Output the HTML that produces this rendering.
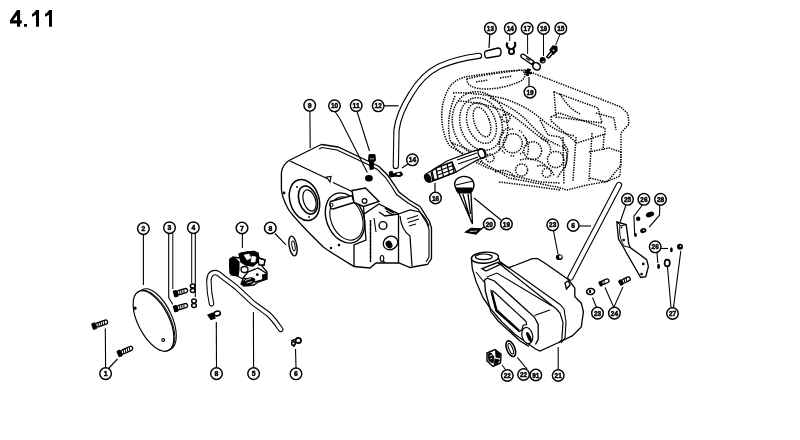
<!DOCTYPE html>
<html><head><meta charset="utf-8"><style>
html,body{margin:0;padding:0;background:#fff;width:800px;height:440px;overflow:hidden}
.t{position:absolute;left:10px;top:5px;font-family:"Liberation Sans",sans-serif;font-weight:bold;font-size:48px;line-height:48px;color:#000;letter-spacing:0px;transform:scale(0.5);transform-origin:0 0}
svg{position:absolute;left:0;top:0;will-change:transform}
svg text{font-family:"Liberation Sans",sans-serif}
</style></head><body>
<svg width="800" height="440" viewBox="0 0 800 440">
<path d="M451,85 C456,80 462,77 471,76 L506,71 L525,70 L621,107 L628,114 L629,124 L621,133 L621,165 L608,181 L583,186 L567,190 L557,187 L509,178 L487,165 L470,157 C460,152 452,148 449,145 C443,135 441,122 442,110 C443,100 446,92 451,85 Z" fill="none" stroke="#000" stroke-width="1.49" stroke-dasharray="1.4 1.1" />
<path d="M455,96 C449,110 447,125 450,140 C456,152 470,160 488,168 L510,175 L540,182 L560,183" fill="none" stroke="#000" stroke-width="1.49" stroke-dasharray="1.4 1.1" />
<path d="M467,79 C480,75 500,73 521,70 C526,72 526,78 521,81 C510,86 498,89 485,89 C474,89 466,85 467,79 Z" fill="none" stroke="#000" stroke-width="1.49" stroke-dasharray="1.4 1.1" />
<path d="M476,82 L488,80 M500,78 L512,76" fill="none" stroke="#000" stroke-width="1.49" stroke-dasharray="1.4 1.1" />
<path d="M453,93 C470,92 485,95 502,98 C515,102 528,108 540,118 C552,128 560,133 575,136" fill="none" stroke="#000" stroke-width="1.49" stroke-dasharray="1.4 1.1" />
<path d="M458,101 C475,102 495,106 510,114 C525,124 535,135 548,142" fill="none" stroke="#000" stroke-width="1.49" stroke-dasharray="1.4 1.1" />
<path d="M490,98 C505,104 520,112 530,124 C538,132 545,140 560,146" fill="none" stroke="#000" stroke-width="1.49" stroke-dasharray="1.4 1.1" />
<ellipse cx="480" cy="124" rx="27" ry="33" transform="rotate(-20 480 124)" fill="none" stroke="#000" stroke-width="1.4850000000000003" stroke-dasharray="1.4 1.1"/>
<ellipse cx="481" cy="124" rx="20.5" ry="27" transform="rotate(-20 481 124)" fill="none" stroke="#000" stroke-width="1.4850000000000003" stroke-dasharray="1.4 1.1"/>
<ellipse cx="481.5" cy="123" rx="14" ry="21" transform="rotate(-20 481.5 123)" fill="none" stroke="#000" stroke-width="1.4850000000000003" stroke-dasharray="1.4 1.1"/>
<ellipse cx="482" cy="122" rx="7.5" ry="15.5" transform="rotate(-20 482 122)" fill="none" stroke="#000" stroke-width="1.4850000000000003" stroke-dasharray="1.4 1.1"/>
<circle cx="512.7" cy="143.3" r="9.6" fill="none" stroke="#000" stroke-width="1.4850000000000003" stroke-dasharray="1.4 1.1"/>
<circle cx="532.7" cy="150.7" r="8.9" fill="none" stroke="#000" stroke-width="1.4850000000000003" stroke-dasharray="1.4 1.1"/>
<circle cx="555.6" cy="159.5" r="8.1" fill="none" stroke="#000" stroke-width="1.4850000000000003" stroke-dasharray="1.4 1.1"/>
<circle cx="521.6" cy="170" r="6" fill="none" stroke="#000" stroke-width="1.4850000000000003" stroke-dasharray="1.4 1.1"/>
<circle cx="546.7" cy="172.8" r="4.5" fill="none" stroke="#000" stroke-width="1.4850000000000003" stroke-dasharray="1.4 1.1"/>
<circle cx="506" cy="118" r="4" fill="none" stroke="#000" stroke-width="1.4850000000000003" stroke-dasharray="1.4 1.1"/>
<circle cx="490" cy="158" r="4" fill="none" stroke="#000" stroke-width="1.4850000000000003" stroke-dasharray="1.4 1.1"/>
<path d="M554,92 L598,108 L602,123 L556,117 Z" fill="none" stroke="#000" stroke-width="1.49" stroke-dasharray="1.4 1.1" />
<path d="M560,94 C566,104 572,110 580,114" fill="none" stroke="#000" stroke-width="1.49" stroke-dasharray="1.4 1.1" />
<path d="M551,117 L559,113 L605,128 L605,134 L577,143 L551,121 Z" fill="none" stroke="#000" stroke-width="1.49" stroke-dasharray="1.4 1.1" />
<path d="M563,137 L564,184 M576,137 L573,181 M592,133 L589,181 M604,134 L603,150" fill="none" stroke="#000" stroke-width="1.49" stroke-dasharray="1.4 1.1" />
<path d="M589,152 L609,148 L621,152 L620,176 L606,182 L590,178" fill="none" stroke="#000" stroke-width="1.49" stroke-dasharray="1.4 1.1" />
<path d="M540,120 L548,135 L560,137 L568,150 L566,165 L557,178" fill="none" stroke="#000" stroke-width="1.49" stroke-dasharray="1.4 1.1" />
<path d="M596,113 L614,118 L616,130" fill="none" stroke="#000" stroke-width="1.49" stroke-dasharray="1.4 1.1" />
<path d="M500,150 C498,140 500,130 510,127 M523,135 C528,140 530,146 527,156 M520,160 C530,157 540,160 546,166" fill="none" stroke="#000" stroke-width="1.49" stroke-dasharray="1.4 1.1" />
<path d="M495,172 C505,168 512,172 515,178 M537,166 C545,164 552,168 554,176" fill="none" stroke="#000" stroke-width="1.49" stroke-dasharray="1.4 1.1" />
<path d="M541,138 C548,142 552,146 550,152 M562,146 C568,150 568,158 565,168" fill="none" stroke="#000" stroke-width="1.49" stroke-dasharray="1.4 1.1" />
<path d="M499,182 L532,186 L560,190" fill="none" stroke="#000" stroke-width="1.49" stroke-dasharray="1.4 1.1" />
<path d="M452,143 C462,147 470,150 478,155 L483,163" fill="none" stroke="#000" stroke-width="1.49" stroke-dasharray="1.4 1.1" />
<circle cx="513" cy="142.5" r="13.5" fill="none" stroke="#000" stroke-width="1.3" stroke-dasharray="1.4 1.1 1.4 6" />
<path d="M479,55.8 C466,57.5 450,61.5 439,66.5 C428,72 418,82 411,94 C404,105 398,118 396.5,130 L395.8,166" fill="none" stroke="#000" stroke-width="6.3" stroke-linecap="round"/>
<path d="M479,55.8 C466,57.5 450,61.5 439,66.5 C428,72 418,82 411,94 C404,105 398,118 396.5,130 L395.8,166" fill="none" stroke="#fff" stroke-width="4.1"  stroke-linecap="round"/>
<circle cx="378.2" cy="105.8" r="5.8" fill="#fff" stroke="#000" stroke-width="1.45"/>
<text x="378.2" y="108.39999999999999" font-size="7.2" font-weight="bold" text-anchor="middle" stroke="#000" stroke-width="0.5" textLength="7.2" lengthAdjust="spacingAndGlyphs">12</text>
<path d="M384,105.8 L398.5,105.8" fill="none" stroke="#000" stroke-width="1.21" />
<circle cx="490.4" cy="28.4" r="5.8" fill="#fff" stroke="#000" stroke-width="1.45"/>
<text x="490.4" y="31.0" font-size="7.2" font-weight="bold" text-anchor="middle" stroke="#000" stroke-width="0.5" textLength="7.2" lengthAdjust="spacingAndGlyphs">13</text>
<path d="M489.8,34 L489,48" fill="none" stroke="#000" stroke-width="1.21" />
<circle cx="510.3" cy="28.4" r="5.8" fill="#fff" stroke="#000" stroke-width="1.45"/>
<text x="510.3" y="31.0" font-size="7.2" font-weight="bold" text-anchor="middle" stroke="#000" stroke-width="0.5" textLength="7.2" lengthAdjust="spacingAndGlyphs">14</text>
<path d="M509.7,34 L509.7,41" fill="none" stroke="#000" stroke-width="0.99" />
<circle cx="527.2" cy="28.4" r="5.8" fill="#fff" stroke="#000" stroke-width="1.45"/>
<text x="527.2" y="31.0" font-size="7.2" font-weight="bold" text-anchor="middle" stroke="#000" stroke-width="0.5" textLength="7.2" lengthAdjust="spacingAndGlyphs">17</text>
<path d="M527.6,34 L527.6,54" fill="none" stroke="#000" stroke-width="0.99" />
<circle cx="543.6" cy="28.4" r="5.8" fill="#fff" stroke="#000" stroke-width="1.45"/>
<text x="543.6" y="31.0" font-size="7.2" font-weight="bold" text-anchor="middle" stroke="#000" stroke-width="0.5" textLength="7.2" lengthAdjust="spacingAndGlyphs">18</text>
<path d="M543.5,34 L543.5,56" fill="none" stroke="#000" stroke-width="0.99" />
<circle cx="560.8" cy="28.4" r="5.8" fill="#fff" stroke="#000" stroke-width="1.45"/>
<text x="560.8" y="31.0" font-size="7.2" font-weight="bold" text-anchor="middle" stroke="#000" stroke-width="0.5" textLength="7.2" lengthAdjust="spacingAndGlyphs">15</text>
<path d="M560,34.2 L555.7,45" fill="none" stroke="#000" stroke-width="0.99" />
<circle cx="530" cy="92.2" r="5.8" fill="#fff" stroke="#000" stroke-width="1.45"/>
<text x="530" y="94.8" font-size="7.2" font-weight="bold" text-anchor="middle" stroke="#000" stroke-width="0.5" textLength="7.2" lengthAdjust="spacingAndGlyphs">19</text>
<path d="M529,77 L529,86" fill="none" stroke="#000" stroke-width="1.21" />
<path d="M486,51 L498,48 C502,48 502,55 499,56 L487,58 C484,58 484,51 486,51 Z" fill="#fff" stroke="#000" stroke-width="1.32" />
<path d="M507.5,42.5 C506,45 507,48 510,49 M514.5,42 C516,44.5 515,47.5 512.5,49" fill="none" stroke="#000" stroke-width="2.2" />
<circle cx="511.5" cy="51.5" r="2.6" fill="none" stroke="#000" stroke-width="1.9"/>
<path d="M521.5,54.5 C520,55.5 521,57.5 523,58.5 L532,64.5 L534,61.5 L524,54.5 C523.5,54 522,54 521.5,54.5 Z" fill="#fff" stroke="#000" stroke-width="1.43" />
<ellipse cx="536.5" cy="66.3" rx="4" ry="3.4" transform="rotate(35 536.5 66.3)" fill="#fff" stroke="#000" stroke-width="1.6"/>
<path d="M526,58 L530,60.5" fill="none" stroke="#000" stroke-width="1.32" />
<ellipse cx="542.7" cy="60.3" rx="3" ry="3.2" fill="#000"/>
<path d="M542,62 L544.5,61.5" fill="none" stroke="#fff" stroke-width="0.8" />
<path d="M546.5,57 L551,51.5 M549,58 L553.5,52.5" fill="none" stroke="#000" stroke-width="1.43" />
<path d="M546.5,57 L549,58" fill="none" stroke="#000" stroke-width="1.43" />
<path d="M550,50 L553,46 L556.7,46.5 L557,50.5 L553.5,54 Z" fill="#000" stroke="#000" stroke-width="1.32" />
<circle cx="553.5" cy="50.3" r="0.9" fill="#fff"/>
<path d="M525,70 L531,74 M526,75.5 L530.5,69 M524.5,72.5 L532,73 M528,68.5 L528,76" fill="none" stroke="#000" stroke-width="1.87" />
<path d="M289,160.5 L318,146 L322,144.5 L338,147 L369,161.5 L379,166.5 L387.5,175 L394.5,185 L399,192 L410,200.5 L420,206.5 L429.5,221.5 L431.5,228 L431.5,258.5 L427.5,264.5 L421,265.5 L410,267.5 L399,263 L376,263 L370,268 L354,266.5 C340,258 330,252 322.7,246.4 L306.8,230.5 C297,220 290,213 287.7,208 C283,199 281.5,194 281.4,189 L281.4,173 C282,167 285,163 289,160.5 Z" fill="#fff" stroke="#000" stroke-width="1.32" />
<path d="M319,149 L322,147.5 L337,150 L368,164.5 L377.5,169.5 L385.5,177.5 L392,187 L396.5,194.5 L408,203 L418,209 L427,223.5 L429,229 L429,257 L426,262" fill="none" stroke="#000" stroke-width="1.1" />
<path d="M290,161 L327,178.5" fill="none" stroke="#000" stroke-width="1.32" />
<path d="M333,182.5 L353,192" fill="none" stroke="#000" stroke-width="1.32" />
<path d="M326.5,177 L331,176.5 L330,182 Z" fill="#fff" stroke="#000" stroke-width="1.21" />
<ellipse cx="304.5" cy="200" rx="14.5" ry="21" transform="rotate(-18 304.5 200)" fill="none" stroke="#000" stroke-width="1.5"/>
<ellipse cx="308" cy="200" rx="9" ry="14.5" transform="rotate(-18 308 200)" fill="none" stroke="#000" stroke-width="1.6"/>
<ellipse cx="309.5" cy="200.5" rx="6" ry="11" transform="rotate(-18 309.5 200.5)" fill="none" stroke="#000" stroke-width="1.2"/>
<circle cx="309" cy="217" r="0.9" fill="#000"/><circle cx="297" cy="187" r="0.9" fill="#000"/>
<ellipse cx="345" cy="218" rx="18.5" ry="26" transform="rotate(-22 345 218)" fill="none" stroke="#000" stroke-width="1.4"/>
<ellipse cx="346.5" cy="218.5" rx="15.5" ry="22.5" transform="rotate(-22 346.5 218.5)" fill="none" stroke="#000" stroke-width="1.1"/>
<path d="M330.5,201.5 L352,195.5 L354,202.5 L333,209 C330,209 329,203 330.5,201.5 Z" fill="#fff" stroke="#000" stroke-width="1.32" />
<circle cx="331.5" cy="205" r="1.5" fill="none" stroke="#000" stroke-width="1"/>
<path d="M352,190.5 L365.5,188 L379,201.5 L363.5,206.5 L354,202.5 Z" fill="#fff" stroke="#000" stroke-width="1.43" />
<circle cx="364.5" cy="201" r="2.4" fill="none" stroke="#000" stroke-width="1.2"/>
<path d="M363.5,206.5 L364,214 L379,204 L398.5,214 L398.5,263 M364,214 L366,240 L354,245 L354,266.5 M379,212 L385,216 L398.5,214 M370.5,220 L370.5,262" fill="none" stroke="#000" stroke-width="1.32" />
<path d="M370.5,220 L370.5,262" fill="none" stroke="#000" stroke-width="1.32" stroke-dasharray="2 2" />
<path d="M385,208 L394,213 M386,211 L393,215" fill="none" stroke="#000" stroke-width="1.43" />
<circle cx="383" cy="225.5" r="3.9" fill="#fff" stroke="#000" stroke-width="1.4"/>
<ellipse cx="390.5" cy="243" rx="7.5" ry="6.5" transform="rotate(-30 390.5 243)" fill="#fff" stroke="#000" stroke-width="1.3"/>
<ellipse cx="389" cy="244.5" rx="3.2" ry="4" transform="rotate(-30 389 244.5)" fill="#000"/>
<ellipse cx="382" cy="258.5" rx="1.8" ry="3" fill="none" stroke="#000" stroke-width="1.1"/>
<path d="M398.5,214 L410,210 L420,212 L425.5,218.5 L429,226 M400,216 C401,226 404,232 410,236 L412,266" fill="none" stroke="#000" stroke-width="1.21" />
<path d="M407,219 L418,215.5 M408,222.5 L419,219 M409,226 L416,224 M374,218 L376,232" fill="none" stroke="#000" stroke-width="1.1" />
<circle cx="284" cy="193" r="1.4" fill="#000"/><circle cx="331" cy="248" r="1.2" fill="#000"/><circle cx="339" cy="245" r="1.3" fill="#000"/><circle cx="384" cy="262" r="1" fill="#000"/>
<path d="M369,154.5 L375,154.5 L375.5,160.5 L373.5,162 L373.5,169 L370,169.5 L369.5,162 L368.5,160.5 Z" fill="#000" stroke="#000" stroke-width="0.88" />
<circle cx="371" cy="158.8" r="0.7" fill="#fff"/><circle cx="373" cy="158.8" r="0.7" fill="#fff"/>
<ellipse cx="368.9" cy="178.2" rx="3.9" ry="3.3" fill="#000"/>
<circle cx="309.7" cy="105.3" r="5.8" fill="#fff" stroke="#000" stroke-width="1.45"/>
<text x="309.7" y="107.89999999999999" font-size="7.2" font-weight="bold" text-anchor="middle" stroke="#000" stroke-width="0.5" textLength="3.8" lengthAdjust="spacingAndGlyphs">9</text>
<path d="M309.9,111 L310.2,148" fill="none" stroke="#000" stroke-width="1.1" />
<circle cx="334.5" cy="105.8" r="5.8" fill="#fff" stroke="#000" stroke-width="1.45"/>
<text x="334.5" y="108.39999999999999" font-size="7.2" font-weight="bold" text-anchor="middle" stroke="#000" stroke-width="0.5" textLength="7.2" lengthAdjust="spacingAndGlyphs">10</text>
<path d="M335,111.5 L340,119 L367.3,172.5" fill="none" stroke="#000" stroke-width="1.1" />
<circle cx="356.2" cy="105.6" r="5.8" fill="#fff" stroke="#000" stroke-width="1.45"/>
<text x="356.2" y="108.19999999999999" font-size="7.2" font-weight="bold" text-anchor="middle" stroke="#000" stroke-width="0.5" textLength="7.2" lengthAdjust="spacingAndGlyphs">11</text>
<path d="M357,111.5 L369.5,151" fill="none" stroke="#000" stroke-width="1.1" />
<path d="M389.5,172 L392,171.5 L393,174 L396,173 L401,172 L402.5,174.5 L400,176.5 L395,176 L391,177 L389.5,176 Z" fill="#000" stroke="#000" stroke-width="1.1" />
<ellipse cx="398.5" cy="174" rx="1.8" ry="0.9" fill="#fff"/>
<circle cx="412.4" cy="159.8" r="5.8" fill="#fff" stroke="#000" stroke-width="1.45"/>
<text x="412.4" y="162.4" font-size="7.2" font-weight="bold" text-anchor="middle" stroke="#000" stroke-width="0.5" textLength="7.2" lengthAdjust="spacingAndGlyphs">14</text>
<path d="M408,164 L402,168" fill="none" stroke="#000" stroke-width="1.21" />
<path d="M426,174 L447,161 L474,151 L481,149 C486,149 487,156 484.5,157 L478,159.5 L456,172 L430,182 C425,183 423,176 426,174 Z" fill="#fff" stroke="#000" stroke-width="1.32" />
<ellipse cx="481.5" cy="153.5" rx="3.2" ry="5" transform="rotate(-20 481.5 153.5)" fill="none" stroke="#000" stroke-width="1.4"/>
<path d="M456,172 L452,162 L436,168 L438,179 Z" fill="#fff" stroke="#000" stroke-width="1.43" />
<path d="M441,166 L443.5,177 M447,164 L449.5,175 M452,162.5 L454,173 M437,171.5 L454,165 M438,175 L455,168.5" fill="none" stroke="#000" stroke-width="1.21" />
<path d="M436,168 L432,171 L434,180 L438,179" fill="none" stroke="#000" stroke-width="1.32" />
<path d="M457,160 L477,153 M458,164 L478,157" fill="none" stroke="#000" stroke-width="1.1" />
<ellipse cx="428" cy="178" rx="3" ry="4.3" transform="rotate(-25 428 178)" fill="#000"/>
<path d="M431,172 L433,181" fill="none" stroke="#000" stroke-width="1.32" />
<circle cx="435.5" cy="198" r="5.8" fill="#fff" stroke="#000" stroke-width="1.45"/>
<text x="435.5" y="200.6" font-size="7.2" font-weight="bold" text-anchor="middle" stroke="#000" stroke-width="0.5" textLength="7.2" lengthAdjust="spacingAndGlyphs">16</text>
<path d="M435,183 L435,192" fill="none" stroke="#000" stroke-width="1.21" />
<path d="M455,186 C453,178 462,176 465,176.5 C472,177 475,182 473.5,188 L472,191 L457,191 Z" fill="#fff" stroke="#000" stroke-width="1.43" />
<path d="M456,185 L473,181" fill="none" stroke="#000" stroke-width="1.21" />
<path d="M456,188 L472,188 L471,193 L458,193 Z" fill="#000" stroke="#000" stroke-width="1.1" />
<path d="M459,193 L472.5,224 L471,193 M463,194 L470,218 M468,194 L470.5,214" fill="none" stroke="#000" stroke-width="1.32" />
<circle cx="506.4" cy="224" r="5.8" fill="#fff" stroke="#000" stroke-width="1.45"/>
<text x="506.4" y="226.6" font-size="7.2" font-weight="bold" text-anchor="middle" stroke="#000" stroke-width="0.5" textLength="7.2" lengthAdjust="spacingAndGlyphs">19</text>
<path d="M474,198 L501,220" fill="none" stroke="#000" stroke-width="1.1" />
<circle cx="489.3" cy="224" r="5.8" fill="#fff" stroke="#000" stroke-width="1.45"/>
<text x="489.3" y="226.6" font-size="7.2" font-weight="bold" text-anchor="middle" stroke="#000" stroke-width="0.5" textLength="7.2" lengthAdjust="spacingAndGlyphs">20</text>
<path d="M484,227 L481,229" fill="none" stroke="#000" stroke-width="1.1" />
<path d="M466,232 L471,228.5 L481,229 L476,234 Z" fill="#000" stroke="#000" stroke-width="1.54" />
<path d="M470,231.5 L477,231" fill="none" stroke="#fff" stroke-width="0.8" />
<circle cx="143.4" cy="228.6" r="5.8" fill="#fff" stroke="#000" stroke-width="1.45"/>
<text x="143.4" y="231.2" font-size="7.2" font-weight="bold" text-anchor="middle" stroke="#000" stroke-width="0.5" textLength="3.8" lengthAdjust="spacingAndGlyphs">2</text>
<path d="M143.4,234 L143.4,285" fill="none" stroke="#000" stroke-width="1.1" />
<circle cx="169.5" cy="227.7" r="5.8" fill="#fff" stroke="#000" stroke-width="1.45"/>
<text x="169.5" y="230.29999999999998" font-size="7.2" font-weight="bold" text-anchor="middle" stroke="#000" stroke-width="0.5" textLength="3.8" lengthAdjust="spacingAndGlyphs">3</text>
<path d="M168.7,233 L168.7,297.5 L172.8,304.5" fill="none" stroke="#000" stroke-width="1.1" />
<path d="M172.8,233 L172.8,289" fill="none" stroke="#000" stroke-width="0.99" />
<circle cx="193.4" cy="227.7" r="5.8" fill="#fff" stroke="#000" stroke-width="1.45"/>
<text x="193.4" y="230.29999999999998" font-size="7.2" font-weight="bold" text-anchor="middle" stroke="#000" stroke-width="0.5" textLength="3.8" lengthAdjust="spacingAndGlyphs">4</text>
<path d="M191.7,233 L191.7,283" fill="none" stroke="#000" stroke-width="0.99" />
<path d="M195.3,233 L195.3,297" fill="none" stroke="#000" stroke-width="1.1" />
<ellipse cx="156.5" cy="319.5" rx="15.5" ry="33" transform="rotate(-25 156.5 319.5)" fill="#fff" stroke="#000" stroke-width="1.1"/>
<ellipse cx="154.5" cy="320.5" rx="15.5" ry="33" transform="rotate(-27 154.5 320.5)" fill="none" stroke="#000" stroke-width="0.9"/>
<ellipse cx="153.5" cy="321" rx="15.5" ry="33" transform="rotate(-27 153.5 321)" fill="#fff" stroke="#000" stroke-width="1.2"/>
<circle cx="135" cy="308.2" r="1.6" fill="#000"/><circle cx="163.2" cy="340" r="1.4" fill="none" stroke="#000" stroke-width="1.1"/>
<g transform="translate(174.5,294) rotate(-17.1)"><rect x="-1" y="-3.5" width="4.5" height="7.0" rx="1.2" fill="#000"/><rect x="3.0" y="-2.1" width="10.601470508735444" height="4.2" rx="2.1" fill="#fff" stroke="#000" stroke-width="1.3"/><line x1="6.0" y1="-1.8" x2="5.0" y2="1.8" stroke="#000" stroke-width="1"/><line x1="8.2" y1="-1.8" x2="7.2" y2="1.8" stroke="#000" stroke-width="1"/><line x1="10.4" y1="-1.8" x2="9.4" y2="1.8" stroke="#000" stroke-width="1"/></g>
<g transform="translate(174.5,309) rotate(-17.1)"><rect x="-1" y="-3.5" width="4.5" height="7.0" rx="1.2" fill="#000"/><rect x="3.0" y="-2.1" width="10.601470508735444" height="4.2" rx="2.1" fill="#fff" stroke="#000" stroke-width="1.3"/><line x1="6.0" y1="-1.8" x2="5.0" y2="1.8" stroke="#000" stroke-width="1"/><line x1="8.2" y1="-1.8" x2="7.2" y2="1.8" stroke="#000" stroke-width="1"/><line x1="10.4" y1="-1.8" x2="9.4" y2="1.8" stroke="#000" stroke-width="1"/></g>
<ellipse cx="192.7" cy="286" rx="2.3" ry="2" fill="none" stroke="#000" stroke-width="1.5"/><ellipse cx="192.7" cy="290.5" rx="2.3" ry="2" fill="none" stroke="#000" stroke-width="1.5"/>
<ellipse cx="194" cy="301" rx="2.3" ry="2" fill="none" stroke="#000" stroke-width="1.5"/><ellipse cx="194" cy="305.5" rx="2.3" ry="2" fill="none" stroke="#000" stroke-width="1.5"/>
<g transform="translate(93,326.5) rotate(-19.0)"><rect x="-1" y="-3.5" width="4.5" height="7.0" rx="1.2" fill="#000"/><rect x="3.0" y="-2.1" width="12.337861650177967" height="4.2" rx="2.1" fill="#fff" stroke="#000" stroke-width="1.3"/><line x1="6.0" y1="-1.8" x2="5.0" y2="1.8" stroke="#000" stroke-width="1"/><line x1="8.2" y1="-1.8" x2="7.2" y2="1.8" stroke="#000" stroke-width="1"/><line x1="10.4" y1="-1.8" x2="9.4" y2="1.8" stroke="#000" stroke-width="1"/><line x1="12.600000000000001" y1="-1.8" x2="11.600000000000001" y2="1.8" stroke="#000" stroke-width="1"/></g>
<g transform="translate(118.5,354) rotate(-24.9)"><rect x="-1" y="-3.5" width="4.5" height="7.0" rx="1.2" fill="#000"/><rect x="3.0" y="-2.1" width="12.435349040433131" height="4.2" rx="2.1" fill="#fff" stroke="#000" stroke-width="1.3"/><line x1="6.0" y1="-1.8" x2="5.0" y2="1.8" stroke="#000" stroke-width="1"/><line x1="8.2" y1="-1.8" x2="7.2" y2="1.8" stroke="#000" stroke-width="1"/><line x1="10.4" y1="-1.8" x2="9.4" y2="1.8" stroke="#000" stroke-width="1"/><line x1="12.600000000000001" y1="-1.8" x2="11.600000000000001" y2="1.8" stroke="#000" stroke-width="1"/></g>
<circle cx="105.6" cy="373.6" r="5.8" fill="#fff" stroke="#000" stroke-width="1.45"/>
<text x="105.6" y="376.20000000000005" font-size="7.2" font-weight="bold" text-anchor="middle" stroke="#000" stroke-width="0.5" textLength="3.8" lengthAdjust="spacingAndGlyphs">1</text>
<path d="M105.3,328.5 L105.6,367.5" fill="none" stroke="#000" stroke-width="1.1" />
<path d="M108.5,368.5 L117.5,359" fill="none" stroke="#000" stroke-width="1.1" />
<path d="M230,259 L233,257 L239,258 L241,253 L248,252 L254,251.5 L258,253 L259,258 L265,260 L264,265 L262,266 L267,272 L267,279 L258,282 L254,285 L244,286 L241,284 L243,279 L237,276 L230,273 Z" fill="#fff" stroke="#000" stroke-width="1.32" />
<path d="M230,259 L235,258 L239,262 L239,270 L238,276 L231,275 L229.5,266 Z" fill="#000" stroke="#000" stroke-width="1.1" />
<path d="M239,254 L248,252 L254,251.5 L258,254 L258,262 L253,266 L246,265 L241,262 Z" fill="#000" stroke="#000" stroke-width="1.32" />
<path d="M244,255 L249,254 L251,258 L247,260 Z M252,256 L256,257 L255,262 L251,262 Z" fill="#fff" stroke="#fff" stroke-width="0.6" />
<path d="M258,258 L265,260 L264,265 L259,265 Z" fill="#fff" stroke="#000" stroke-width="1.32" />
<ellipse cx="244.5" cy="269.5" rx="3.5" ry="3" fill="#fff" stroke="#000" stroke-width="1.3"/>
<path d="M243,278 L248,272 L258,268 L266,273 L266,279 L255,282 Z" fill="#fff" stroke="#000" stroke-width="1.32" />
<circle cx="257.3" cy="274.7" r="1.4" fill="#000"/>
<path d="M262.5,275 L266.5,274 L266,279 L263,279.5 Z" fill="#000" stroke="#000" stroke-width="1.1" />
<ellipse cx="248.5" cy="281.5" rx="7" ry="3.8" transform="rotate(-20 248.5 281.5)" fill="#000"/>
<path d="M245,280.5 L251,278.5 M247,283 L252,281.5" fill="none" stroke="#fff" stroke-width="0.9" />
<circle cx="242" cy="228" r="5.8" fill="#fff" stroke="#000" stroke-width="1.45"/>
<text x="242" y="230.6" font-size="7.2" font-weight="bold" text-anchor="middle" stroke="#000" stroke-width="0.5" textLength="3.8" lengthAdjust="spacingAndGlyphs">7</text>
<path d="M242.4,234 L242.4,248" fill="none" stroke="#000" stroke-width="1.1" />
<circle cx="270.3" cy="228" r="5.8" fill="#fff" stroke="#000" stroke-width="1.45"/>
<text x="270.3" y="230.6" font-size="7.2" font-weight="bold" text-anchor="middle" stroke="#000" stroke-width="0.5" textLength="3.8" lengthAdjust="spacingAndGlyphs">8</text>
<path d="M275,233.5 L286,244.8" fill="none" stroke="#000" stroke-width="1.1" />
<ellipse cx="293" cy="246" rx="3.8" ry="10" transform="rotate(-10 293 246)" fill="#fff" stroke="#000" stroke-width="1.4"/>
<ellipse cx="293.5" cy="246" rx="1.5" ry="5" transform="rotate(-10 293 246)" fill="none" stroke="#000" stroke-width="1.0"/>
<path d="M211.5,303.7 C210,297 209,290 208.9,282 C208.9,276 211,272.6 215,272.6 C218,272.6 220,274.5 222,276.5 L236,287 L253,303 L267.5,313.5 C273,318 277,324 280.7,329.4" fill="none" stroke="#000" stroke-width="5.5" stroke-linecap="round"/>
<path d="M211.5,303.7 C210,297 209,290 208.9,282 C208.9,276 211,272.6 215,272.6 C218,272.6 220,274.5 222,276.5 L236,287 L253,303 L267.5,313.5 C273,318 277,324 280.7,329.4" fill="none" stroke="#fff" stroke-width="3.4"  stroke-linecap="round"/>
<circle cx="216.5" cy="373.6" r="5.8" fill="#fff" stroke="#000" stroke-width="1.45"/>
<text x="216.5" y="376.20000000000005" font-size="7.2" font-weight="bold" text-anchor="middle" stroke="#000" stroke-width="0.5" textLength="3.8" lengthAdjust="spacingAndGlyphs">8</text>
<path d="M216.3,322 L216.5,367.5" fill="none" stroke="#000" stroke-width="1.1" />
<path d="M208,315 L213,313 L215,318 L211,319.5 Z" fill="#000" stroke="#000" stroke-width="1.32" />
<ellipse cx="217.2" cy="313.5" rx="3.2" ry="2.3" transform="rotate(-15 217 313.5)" fill="none" stroke="#000" stroke-width="1.6"/>
<circle cx="253.6" cy="373.6" r="5.8" fill="#fff" stroke="#000" stroke-width="1.45"/>
<text x="253.6" y="376.20000000000005" font-size="7.2" font-weight="bold" text-anchor="middle" stroke="#000" stroke-width="0.5" textLength="3.8" lengthAdjust="spacingAndGlyphs">5</text>
<path d="M253.4,312 L253.6,367.5" fill="none" stroke="#000" stroke-width="1.1" />
<circle cx="296" cy="373.8" r="5.8" fill="#fff" stroke="#000" stroke-width="1.45"/>
<text x="296" y="376.40000000000003" font-size="7.2" font-weight="bold" text-anchor="middle" stroke="#000" stroke-width="0.5" textLength="3.8" lengthAdjust="spacingAndGlyphs">6</text>
<path d="M295.5,349 L296,367.5" fill="none" stroke="#000" stroke-width="1.1" />
<circle cx="298.3" cy="340.5" r="2.7" fill="none" stroke="#000" stroke-width="1.8"/>
<circle cx="293.5" cy="343.5" r="1.8" fill="none" stroke="#000" stroke-width="1.5"/>
<path d="M291,341 L295,339.5 M293.5,345 L294,347" fill="none" stroke="#000" stroke-width="1.54" />
<path d="M471.4,258.6 L472.3,268.6 L476,281.4 L483,297.7 L490.5,308.6 L501.4,321.4 L514.5,334 L535.5,349 L540,351 L559.7,342 L572.6,335.6 L581.3,327 L583.4,311.8 L581.3,303.2 L574.8,296.7 L574.8,288 L568.3,279.4 L545,263.2 L537.7,258.6 L532.3,258.6 L516,265 L508.6,267.7 L500.5,263.2 L498.6,258.6 C497,252 473,252 471.4,258.6 Z" fill="#fff" stroke="#000" stroke-width="1.32" />
<ellipse cx="485" cy="257.7" rx="13.6" ry="5.5" transform="rotate(-4 485 257.7)" fill="#fff" stroke="#000" stroke-width="1.4"/>
<ellipse cx="483.8" cy="256.8" rx="8.4" ry="2.8" fill="none" stroke="#000" stroke-width="1.2"/>
<path d="M498,262.5 L507.3,270 L556.4,309 L560,313 L563,322.6 L561.8,340 L558.6,343" fill="none" stroke="#000" stroke-width="1.21" />
<path d="M500.5,262 L511.8,270 L560,304.5 L564,309 L566,322 L565,338 L561,343" fill="none" stroke="#000" stroke-width="1.1" />
<path d="M482,268.6 L498,262.3 L500,264.5 L486,271 Z" fill="none" stroke="#000" stroke-width="1.32" />
<path d="M484.5,280 L487.3,278.2 L494.5,281 L534.5,317.3 L538.2,324.5 L538.2,339 L535.5,344.5 M484.5,280 L485.5,291.8 L491,311.8 L498.2,321 L520,341 L529,346.4" fill="none" stroke="#000" stroke-width="1.32" />
<path d="M487,277 L497,273 L552,306 M484,282 L476,272" fill="none" stroke="#000" stroke-width="1.1" />
<path d="M534.5,315.5 L550,310" fill="none" stroke="#000" stroke-width="1.1" />
<path d="M491.1,290.5 L493.2,291.1 L525.9,321.2 L526.6,324.6 L523.2,325.2 L521.8,330 L519.1,331.4 L495.9,310.9 L491.1,291.8 Z" fill="none" stroke="#000" stroke-width="1.21" />
<path d="M491.8,292 L496.5,310 L519,330.5" fill="none" stroke="#000" stroke-width="2.09" />
<ellipse cx="527.3" cy="335.5" rx="5.3" ry="8.2" transform="rotate(-15 527.3 335.5)" fill="#fff" stroke="#000" stroke-width="1.2"/>
<ellipse cx="529" cy="337" rx="1.8" ry="5.5" transform="rotate(-25 529 337)" fill="#000"/>
<path d="M565,283 L568.5,280.5 L570,285 L566.5,289 Z" fill="#fff" stroke="#000" stroke-width="1.32" />
<circle cx="558.2" cy="375.5" r="5.8" fill="#fff" stroke="#000" stroke-width="1.45"/>
<text x="558.2" y="378.1" font-size="7.2" font-weight="bold" text-anchor="middle" stroke="#000" stroke-width="0.5" textLength="7.2" lengthAdjust="spacingAndGlyphs">21</text>
<path d="M558.2,347 L558.2,370" fill="none" stroke="#000" stroke-width="1.1" />
<circle cx="507.3" cy="375.5" r="5.8" fill="#fff" stroke="#000" stroke-width="1.45"/>
<text x="507.3" y="378.1" font-size="7.2" font-weight="bold" text-anchor="middle" stroke="#000" stroke-width="0.5" textLength="7.2" lengthAdjust="spacingAndGlyphs">22</text>
<path d="M502,365 L505.5,369.5" fill="none" stroke="#000" stroke-width="1.1" />
<circle cx="523.6" cy="374.5" r="5.8" fill="#fff" stroke="#000" stroke-width="1.45"/>
<text x="523.6" y="377.1" font-size="7.2" font-weight="bold" text-anchor="middle" stroke="#000" stroke-width="0.5" textLength="7.2" lengthAdjust="spacingAndGlyphs">22</text>
<circle cx="535.8" cy="375" r="5.8" fill="#fff" stroke="#000" stroke-width="1.45"/>
<text x="535.8" y="377.6" font-size="7.2" font-weight="bold" text-anchor="middle" stroke="#000" stroke-width="0.5" textLength="7.2" lengthAdjust="spacingAndGlyphs">91</text>
<path d="M517.3,357.3 L527,369" fill="none" stroke="#000" stroke-width="1.1" />
<path d="M487,353 L495,349.5 L501,354 L500.5,363 L493,366.5 L487,361 Z" fill="#fff" stroke="#000" stroke-width="1.43" />
<path d="M488,354 L491,353 L494,357 L493,363 L489,361 Z" fill="#000" stroke="#000" stroke-width="0.88" />
<path d="M495.5,350.5 L500,354 L499.5,358 L496,357 Z" fill="#000" stroke="#000" stroke-width="0.88" />
<path d="M495,359 L499.5,360 L497,364 L494,364.5 Z" fill="#000" stroke="#000" stroke-width="0.88" />
<path d="M489.5,356 L492.5,355 M490,359 L492.5,358" fill="none" stroke="#fff" stroke-width="0.8" />
<ellipse cx="510.8" cy="348.7" rx="4" ry="8.3" transform="rotate(-22 510.8 348.7)" fill="none" stroke="#000" stroke-width="1.6"/>
<ellipse cx="510.8" cy="348.7" rx="1.8" ry="5.6" transform="rotate(-22 510.8 348.7)" fill="none" stroke="#000" stroke-width="1.1"/>
<path d="M619,185 L570.5,277.5" fill="none" stroke="#000" stroke-width="6.3" stroke-linecap="round"/>
<path d="M619,185 L570.5,277.5" fill="none" stroke="#fff" stroke-width="4.1"  stroke-linecap="round"/>
<circle cx="573.2" cy="225.5" r="5.8" fill="#fff" stroke="#000" stroke-width="1.45"/>
<text x="573.2" y="228.1" font-size="7.2" font-weight="bold" text-anchor="middle" stroke="#000" stroke-width="0.5" textLength="3.8" lengthAdjust="spacingAndGlyphs">6</text>
<path d="M579,226 L591,226" fill="none" stroke="#000" stroke-width="1.1" />
<circle cx="552.7" cy="224.8" r="5.8" fill="#fff" stroke="#000" stroke-width="1.45"/>
<text x="552.7" y="227.4" font-size="7.2" font-weight="bold" text-anchor="middle" stroke="#000" stroke-width="0.5" textLength="7.2" lengthAdjust="spacingAndGlyphs">23</text>
<path d="M553.5,231 L558,254" fill="none" stroke="#000" stroke-width="1.1" />
<ellipse cx="559.3" cy="257.2" rx="3.4" ry="2.9" fill="#000"/><ellipse cx="560.3" cy="256.8" rx="1.3" ry="1.6" fill="#fff"/>
<path d="M616.8,222 L626.2,224.6 L628.8,244.2 L630.5,247.7 L646.7,259.6 L648.4,266.4 L645.8,276.7 L640.7,277.5 L625.4,251 L623.7,247.7 L618.5,239 Z" fill="#fff" stroke="#000" stroke-width="1.32" />
<path d="M620,225 C619,232 620,240 624,246 L630.5,247.7 M618,223 L621,226 L626,224.6" fill="none" stroke="#000" stroke-width="0.99" />
<circle cx="623.7" cy="240" r="1.3" fill="#000"/><circle cx="643.3" cy="263.9" r="1.3" fill="#000"/><circle cx="641.6" cy="274.1" r="1.3" fill="#000"/><circle cx="621.5" cy="227.5" r="0.9" fill="#000"/>
<circle cx="627.5" cy="199.3" r="5.8" fill="#fff" stroke="#000" stroke-width="1.45"/>
<text x="627.5" y="201.9" font-size="7.2" font-weight="bold" text-anchor="middle" stroke="#000" stroke-width="0.5" textLength="7.2" lengthAdjust="spacingAndGlyphs">25</text>
<path d="M626,205 L620.2,222" fill="none" stroke="#000" stroke-width="1.1" />
<circle cx="643.9" cy="199.3" r="5.8" fill="#fff" stroke="#000" stroke-width="1.45"/>
<text x="643.9" y="201.9" font-size="7.2" font-weight="bold" text-anchor="middle" stroke="#000" stroke-width="0.5" textLength="7.2" lengthAdjust="spacingAndGlyphs">26</text>
<path d="M642.4,205 L633.9,216.1 L634.7,235.7" fill="none" stroke="#000" stroke-width="1.1" />
<circle cx="660.5" cy="199.3" r="5.8" fill="#fff" stroke="#000" stroke-width="1.45"/>
<text x="660.5" y="201.9" font-size="7.2" font-weight="bold" text-anchor="middle" stroke="#000" stroke-width="0.5" textLength="7.2" lengthAdjust="spacingAndGlyphs">28</text>
<path d="M659.8,205 L659.5,215.2 L649.2,227.2" fill="none" stroke="#000" stroke-width="1.1" />
<ellipse cx="650" cy="214.4" rx="4.3" ry="2.6" transform="rotate(-20 650 214.4)" fill="#000"/><circle cx="638.2" cy="218.7" r="2.2" fill="#000"/>
<ellipse cx="643.3" cy="230.6" rx="3.2" ry="2.4" transform="rotate(-20 643.3 230.6)" fill="#000"/><circle cx="643.8" cy="230.3" r="0.8" fill="#fff"/><ellipse cx="635.6" cy="234.9" rx="1.3" ry="2" fill="#000"/>
<circle cx="655.2" cy="246.8" r="5.8" fill="#fff" stroke="#000" stroke-width="1.45"/>
<text x="655.2" y="249.4" font-size="7.2" font-weight="bold" text-anchor="middle" stroke="#000" stroke-width="0.5" textLength="7.2" lengthAdjust="spacingAndGlyphs">26</text>
<path d="M661,248.5 L668,248.5" fill="none" stroke="#000" stroke-width="1.1" />
<path d="M657,253 L657.8,263" fill="none" stroke="#000" stroke-width="1.1" />
<ellipse cx="671.4" cy="249.8" rx="1.4" ry="2.5" fill="#000"/><circle cx="680" cy="246.8" r="3" fill="#000"/><circle cx="680.5" cy="246.3" r="0.8" fill="#fff"/>
<ellipse cx="658.6" cy="266.4" rx="1.4" ry="2.6" fill="#000"/><ellipse cx="667.2" cy="263" rx="2.6" ry="3.4" fill="none" stroke="#000" stroke-width="1.7"/>
<circle cx="672.5" cy="313.5" r="5.8" fill="#fff" stroke="#000" stroke-width="1.45"/>
<text x="672.5" y="316.1" font-size="7.2" font-weight="bold" text-anchor="middle" stroke="#000" stroke-width="0.5" textLength="7.2" lengthAdjust="spacingAndGlyphs">27</text>
<path d="M667.5,267 L671,307.5" fill="none" stroke="#000" stroke-width="1.1" />
<path d="M680.8,251 L673.5,307.5" fill="none" stroke="#000" stroke-width="1.1" />
<circle cx="597.5" cy="313.1" r="5.8" fill="#fff" stroke="#000" stroke-width="1.45"/>
<text x="597.5" y="315.70000000000005" font-size="7.2" font-weight="bold" text-anchor="middle" stroke="#000" stroke-width="0.5" textLength="7.2" lengthAdjust="spacingAndGlyphs">23</text>
<path d="M592.5,297.5 L596.5,307.5" fill="none" stroke="#000" stroke-width="1.1" />
<ellipse cx="590.6" cy="291.5" rx="4" ry="3" transform="rotate(-10 590.6 291.5)" fill="#fff" stroke="#000" stroke-width="1.6"/>
<ellipse cx="590" cy="291.5" rx="1.2" ry="1.8" fill="#000"/>
<circle cx="614.4" cy="313.1" r="5.8" fill="#fff" stroke="#000" stroke-width="1.45"/>
<text x="614.4" y="315.70000000000005" font-size="7.2" font-weight="bold" text-anchor="middle" stroke="#000" stroke-width="0.5" textLength="7.2" lengthAdjust="spacingAndGlyphs">24</text>
<path d="M605,287.5 L613.8,307.5 L623,286.9" fill="none" stroke="#000" stroke-width="1.1" />
<g transform="translate(600,284) rotate(-24.4)"><rect x="-1" y="-2.75" width="3.5" height="5.5" rx="1.2" fill="#000"/><rect x="2.0" y="-1.9" width="7.666436778875616" height="3.8" rx="1.9" fill="#fff" stroke="#000" stroke-width="1.3"/><line x1="5.0" y1="-1.5999999999999999" x2="4.0" y2="1.5999999999999999" stroke="#000" stroke-width="1"/></g>
<g transform="translate(620,283) rotate(-26.6)"><rect x="-1" y="-3.0" width="4" height="6" rx="1.2" fill="#000"/><rect x="2.5" y="-2.0" width="8.680339887498949" height="4" rx="2.0" fill="#fff" stroke="#000" stroke-width="1.3"/><line x1="5.5" y1="-1.7" x2="4.5" y2="1.7" stroke="#000" stroke-width="1"/><line x1="7.7" y1="-1.7" x2="6.7" y2="1.7" stroke="#000" stroke-width="1"/></g>
<path d="M17,10 L20.1,10 L20.1,20.25 L21.8,20.25 L21.8,23.5 L20.1,23.5 L20.1,26.8 L17,26.8 L17,23.5 L10,23.5 L10,20.25 Z M17,15.3 L13.1,20.25 L17,20.25 Z" fill="#000" fill-rule="evenodd"/>
<rect x="24" y="24" width="3" height="2.8" fill="#000"/>
<path transform="translate(0,0)" d="M36,10 L39,10 L39,26.8 L36,26.8 L36,14.8 C35,15.4 33.5,16.2 32,16.8 L32,14 C33.8,13.2 35.2,11.8 36,10 Z" fill="#000"/>
<path transform="translate(13,0)" d="M36,10 L39,10 L39,26.8 L36,26.8 L36,14.8 C35,15.4 33.5,16.2 32,16.8 L32,14 C33.8,13.2 35.2,11.8 36,10 Z" fill="#000"/>
</svg>
</body></html>
